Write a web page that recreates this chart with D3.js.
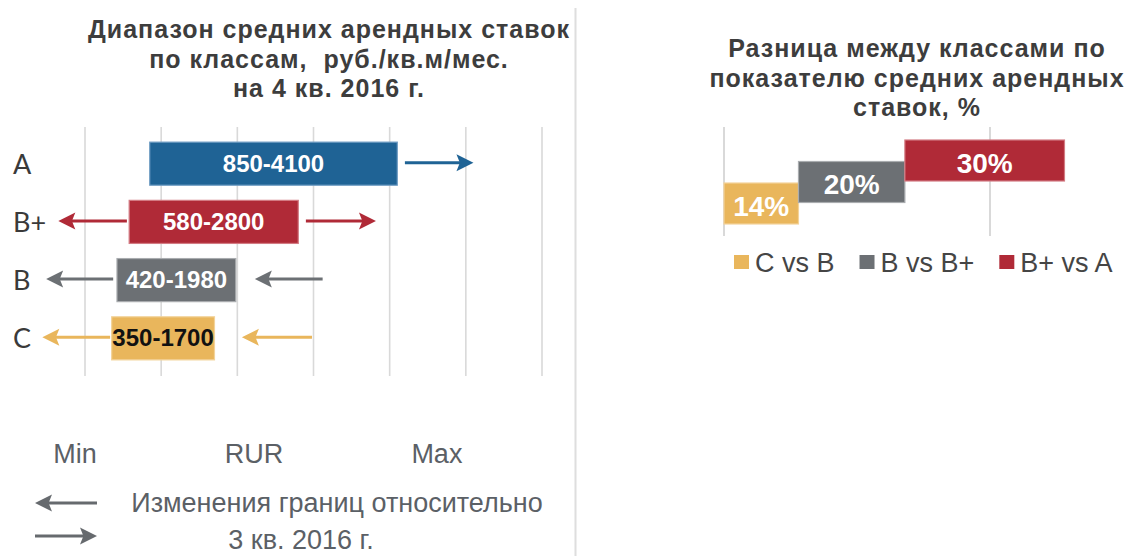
<!DOCTYPE html>
<html>
<head>
<meta charset="utf-8">
<script src="https://cdn.jsdelivr.net/npm/d3@7"></script>
<style>
  body { margin: 0; background: #fff; }
  svg text { font-family: "Liberation Sans", Arial, sans-serif; }
</style>
</head>
<body>
<div id="chart"></div>
<script>
// left chart: rent ranges by class
const classes = ["A", "B+", "B", "C"];
const rangeMin = [850, 580, 420, 350];
const rangeMax = [4100, 2800, 1980, 1700];
const xTicks = [0, 1000, 2000, 3000, 4000, 5000, 6000];

// change arrows vs. previous quarter (from -> to, in rub)
const arrowClass = ["A", "B+", "B+", "B", "B", "C", "C"];
const arrowFrom = [4200, 550, 2900, 370, 3120, 330, 2980];
const arrowTo = [5100, -350, 3820, -510, 2230, -560, 2060];

const noteLabels = ["Min", "RUR", "Max"];
const noteValues = [-130, 2220, 4620];

// right chart: difference between classes
const pairs = ["C vs B", "B vs B+", "B+ vs A"];
const diffs = [14, 20, 30];
const rightTicks = [0, 50];

const W = 1132, H = 556;
const svg = d3.select("#chart").append("svg")
    .attr("width", W)
    .attr("height", H);

const classColor = d3.scaleOrdinal(classes, ["#1f6395", "#b02a37", "#6c7074", "#e9b65c"]);
const classEdge = d3.scaleOrdinal(classes, ["#6f9cc3", "#d37b83", "#a9acaf", "#f3d39a"]);
const labelColor = d3.scaleOrdinal(classes, ["#fff", "#fff", "#fff", "#111"]);

// ---------- left chart ----------
const x = d3.scaleLinear().domain([0, 6000]).range([85, 542]);
const y = d3.scaleBand().domain(classes).range([127, 375]).padding(0.26);

const left = svg.append("g");

left.selectAll(".title-l")
    .data(["Диапазон средних арендных ставок", "по классам,  руб./кв.м/мес.", "на 4 кв. 2016 г."])
    .enter().append("text")
    .attr("x", 329)
    .attr("y", (d, i) => 38 + i * 29.5)
    .attr("text-anchor", "middle")
    .style("font-weight", "bold")
    .style("font-size", "25px")
    .style("letter-spacing", "1px")
    .style("fill", "#3d3d3d")
    .style("white-space", "pre")
    .text(d => d);

left.selectAll(".grid")
    .data(xTicks)
    .enter().append("line")
    .attr("x1", d => x(d)).attr("x2", d => x(d))
    .attr("y1", 127).attr("y2", 376)
    .style("stroke", "#d9d9d9")
    .style("stroke-width", 1.6);

const rows = classes.map((c, i) => ({ c, lo: rangeMin[i], hi: rangeMax[i] }));

left.selectAll(".bar")
    .data(rows)
    .enter().append("rect")
    .attr("x", d => x(d.lo))
    .attr("y", d => y(d.c))
    .attr("width", d => x(d.hi) - x(d.lo))
    .attr("height", y.bandwidth())
    .style("fill", d => classColor(d.c))
    .style("stroke", d => classEdge(d.c))
    .style("stroke-width", 1.2);

left.selectAll(".bar-label")
    .data(rows)
    .enter().append("text")
    .attr("x", d => (x(d.lo) + x(d.hi)) / 2)
    .attr("y", d => y(d.c) + y.bandwidth() / 2 + 8)
    .attr("text-anchor", "middle")
    .style("font-weight", "bold")
    .style("font-size", "24px")
    .style("fill", d => labelColor(d.c))
    .text(d => d.lo + "-" + d.hi);

left.selectAll(".cat")
    .data(classes)
    .enter().append("text")
    .attr("x", 13)
    .attr("y", d => y(d) + y.bandwidth() / 2 + 10)
    .style("font-family", "Lato, 'Open Sans', sans-serif")
    .style("font-size", "27px")
    .style("fill", "#3a3a3a")
    .text(d => d);

function arrow(g, x1, x2, yy, color) {
    const dir = x2 > x1 ? 1 : -1;
    const head = 17;
    g.append("line")
        .attr("x1", x1).attr("x2", x2 - dir * head * 0.7)
        .attr("y1", yy).attr("y2", yy)
        .style("stroke", color)
        .style("stroke-width", 3);
    g.append("path")
        .attr("d", `M${x2},${yy} L${x2 - dir * head},${yy - 8.5} L${x2 - dir * head * 0.8},${yy} L${x2 - dir * head},${yy + 8.5} Z`)
        .style("fill", color);
}

arrowClass.forEach((c, i) => {
    arrow(left, x(arrowFrom[i]), x(arrowTo[i]), y(c) + y.bandwidth() / 2 - 1, classColor(c));
});

left.selectAll(".note")
    .data(noteLabels)
    .enter().append("text")
    .attr("x", (d, i) => x(noteValues[i]))
    .attr("y", 463)
    .attr("text-anchor", "middle")
    .style("font-size", "27px")
    .style("fill", "#5b6066")
    .text(d => d);

// legend for arrows
arrow(left, 97, 35, 503, "#666a6e");
arrow(left, 35, 97, 536, "#666a6e");
left.append("text")
    .attr("x", 337).attr("y", 512)
    .attr("text-anchor", "middle")
    .style("font-size", "27px")
    .style("fill", "#5b6066")
    .text("Изменения границ относительно");
left.append("text")
    .attr("x", 301).attr("y", 549)
    .attr("text-anchor", "middle")
    .style("font-size", "27px")
    .style("fill", "#5b6066")
    .text("3 кв. 2016 г.");

// divider between panels
svg.append("line")
    .attr("x1", 575.5).attr("x2", 575.5)
    .attr("y1", 8).attr("y2", H)
    .style("stroke", "#dedede")
    .style("stroke-width", 2);

// ---------- right chart ----------
const xr = d3.scaleLinear().domain([0, 50]).range([724, 990]);
const yr = d3.scalePoint().domain(pairs).range([203.5, 160.5]);
const barH = 41;
const pairColor = d3.scaleOrdinal(pairs, ["#e9b65c", "#6c7074", "#b02a37"]);
const pairEdge = d3.scaleOrdinal(pairs, ["#f3d39a", "#a9acaf", "#d37b83"]);

const right = svg.append("g");

right.selectAll(".title-r")
    .data(["Разница между классами по", "показателю средних арендных", "ставок, %"])
    .enter().append("text")
    .attr("x", 917)
    .attr("y", (d, i) => 57 + i * 29.5)
    .attr("text-anchor", "middle")
    .style("font-weight", "bold")
    .style("font-size", "25px")
    .style("letter-spacing", "1px")
    .style("fill", "#3d3d3d")
    .text(d => d);

right.selectAll(".grid")
    .data(rightTicks)
    .enter().append("line")
    .attr("x1", d => xr(d)).attr("x2", d => xr(d))
    .attr("y1", 127).attr("y2", 236)
    .style("stroke", "#d0d0d0")
    .style("stroke-width", 1.6);

const starts = diffs.map((d, i) => d3.sum(diffs.slice(0, i)));
const steps = pairs.map((p, i) => ({ p, v: diffs[i], s: starts[i] }));

right.selectAll(".bar")
    .data(steps)
    .enter().append("rect")
    .attr("x", d => xr(d.s))
    .attr("y", d => yr(d.p) - barH / 2)
    .attr("width", d => xr(d.s + d.v) - xr(d.s))
    .attr("height", barH)
    .style("fill", d => pairColor(d.p))
    .style("stroke", d => pairEdge(d.p))
    .style("stroke-width", 1.2);

right.selectAll(".bar-label")
    .data(steps)
    .enter().append("text")
    .attr("x", d => xr(d.s + d.v / 2))
    .attr("y", d => yr(d.p) + 12)
    .attr("text-anchor", "middle")
    .style("font-weight", "bold")
    .style("font-size", "28px")
    .style("fill", "#fff")
    .text(d => d.v + "%");

const legend = right.append("g").attr("transform", "translate(734,262)");
let lx = 0;
pairs.forEach(p => {
    const item = legend.append("g").attr("transform", `translate(${lx},0)`);
    item.append("rect")
        .attr("x", 0).attr("y", -7)
        .attr("width", 15).attr("height", 14)
        .style("fill", pairColor(p));
    const t = item.append("text")
        .attr("x", 21).attr("y", 10)
        .style("font-size", "27px")
        .style("fill", "#454545")
        .text(p);
    lx += 21 + t.node().getComputedTextLength() + 25;
});
</script>
</body>
</html>
